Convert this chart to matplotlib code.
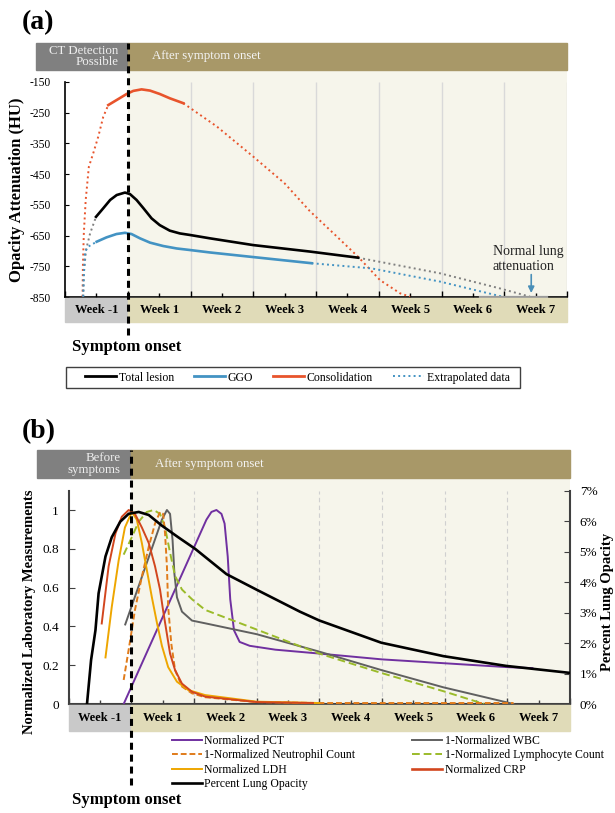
import matplotlib
matplotlib.use('Agg')
import matplotlib.pyplot as plt
from matplotlib.patches import Rectangle
from matplotlib.lines import Line2D
from matplotlib.ticker import MultipleLocator, FuncFormatter

plt.rcParams['font.family'] = ['Liberation Serif', 'DejaVu Serif']
plt.rcParams['axes.unicode_minus'] = False

# ============= data: panel (a), opacity attenuation (HU) vs weeks =============
week_labels = ['Week -1', 'Week 1', 'Week 2', 'Week 3', 'Week 4', 'Week 5', 'Week 6', 'Week 7']

tot_wk = [-0.506, -0.39, -0.28, -0.176, -0.044, 0.036, 0.14, 0.25, 0.38, 0.51, 0.67, 0.83, 0.99, 1.31, 2.0, 2.9, 3.67]
tot_hu = [-589, -561, -534, -518, -510, -515, -534, -561, -594, -616, -634, -643, -648, -659, -681, -702, -722]
tot_pre_wk = [-0.71, -0.70, -0.665, -0.60, -0.506]
tot_pre_hu = [-849, -773, -697, -643, -589]
tot_post_wk = [3.67, 4.98, 5.93, 6.41]
tot_post_hu = [-722, -773, -822, -849]

ggo_wk = [-0.495, -0.34, -0.18, -0.044, 0.06, 0.195, 0.355, 0.565, 0.78, 0.99, 1.31, 2.0, 2.93]
ggo_hu = [-670, -656, -645, -641, -645, -659, -673, -684, -692, -697, -705, -720, -740]
ggo_pre_wk = [-0.71, -0.70, -0.68, -0.63, -0.495]
ggo_pre_hu = [-849, -778, -703, -686, -670]
ggo_post_wk = [2.93, 3.89, 4.98, 5.93, 6.0]
ggo_post_hu = [-740, -757, -800, -847, -850]

con_wk = [-0.31, -0.017, 0.088, 0.22, 0.355, 0.51, 0.67, 0.885]
con_hu = [-225, -189, -179, -174, -178, -189, -203, -219]
con_pre_wk = [-0.72, -0.715, -0.70, -0.67, -0.62, -0.55, -0.47, -0.39, -0.31]
con_pre_hu = [-849, -751, -643, -534, -426, -382, -328, -263, -225]
con_post_wk = [0.885, 1.42, 2.0, 2.5, 2.9, 3.28, 3.67, 4.02, 4.34, 4.5]
con_post_hu = [-219, -295, -393, -480, -570, -643, -719, -795, -838, -849]

normal_wk = [5.61, 6.68]
normal_hu = [-850, -850]

# ============= data: panel (b), normalized lab values vs weeks =============
pct_wk = [-0.12, 1.2, 1.28, 1.36, 1.44, 1.49, 1.54, 1.58, 1.64, 1.73, 1.89, 2.3, 3.0, 4.0, 5.0, 6.0, 6.4]
pct_val = [0.0, 0.95, 0.99, 1.0, 0.98, 0.93, 0.76, 0.54, 0.38, 0.32, 0.30, 0.28, 0.26, 0.23, 0.21, 0.19, 0.185]

wbc_wk = [-0.095, 0.49, 0.57, 0.62, 0.66, 0.69, 0.73, 0.81, 0.97, 1.18, 2.0, 3.0, 3.99, 4.98, 6.1]
wbc_val = [0.41, 0.95, 1.0, 0.98, 0.845, 0.67, 0.55, 0.476, 0.43, 0.416, 0.36, 0.27, 0.175, 0.086, 0.0]

lym_wk = [-0.12, 0.01, 0.12, 0.25, 0.36, 0.46, 0.54, 0.62, 0.70, 0.81, 0.97, 1.18, 1.79, 3.0, 3.99, 4.98, 5.63]
lym_val = [0.77, 0.86, 0.94, 0.99, 1.0, 0.98, 0.91, 0.78, 0.66, 0.59, 0.54, 0.485, 0.41, 0.26, 0.16, 0.066, 0.0]

neu_wk = [-0.12, -0.04, 0.06, 0.17, 0.28, 0.38, 0.46, 0.51, 0.54, 0.57, 0.59, 0.64, 0.70, 0.81, 0.97, 1.18, 2.0, 3.0, 4.0, 5.0, 6.1]
neu_val = [0.124, 0.28, 0.485, 0.656, 0.81, 0.93, 0.99, 0.98, 0.88, 0.71, 0.50, 0.31, 0.175, 0.09, 0.055, 0.035, 0.01, 0.005, 0.005, 0.005, 0.005]

crp_wk = [-0.47, -0.36, -0.25, -0.15, -0.04, 0.06, 0.17, 0.28, 0.38, 0.46, 0.51, 0.57, 0.62, 0.70, 0.81, 0.97, 1.18, 2.0, 2.9]
crp_val = [0.415, 0.71, 0.88, 0.965, 1.0, 0.98, 0.91, 0.83, 0.71, 0.59, 0.48, 0.36, 0.26, 0.175, 0.105, 0.063, 0.038, 0.01, 0.005]

ldh_wk = [-0.41, -0.31, -0.20, -0.10, 0.01, 0.09, 0.17, 0.25, 0.33, 0.41, 0.49, 0.59, 0.73, 0.91, 1.18, 2.0, 3.0]
ldh_val = [0.24, 0.50, 0.74, 0.91, 0.99, 0.95, 0.83, 0.69, 0.55, 0.42, 0.30, 0.19, 0.115, 0.072, 0.046, 0.012, 0.005]

opa_wk = [-0.705, -0.64, -0.57, -0.52, -0.41, -0.31, -0.175, -0.04, 0.12, 0.28, 0.49, 0.75, 1.02, 1.52, 2.0, 2.69, 3.0, 3.99, 4.98, 5.98, 7.0]
opa_pct = [0.0, 1.44, 2.42, 3.63, 4.84, 5.47, 5.98, 6.24, 6.3, 6.2, 5.85, 5.47, 5.09, 4.26, 3.75, 3.03, 2.74, 2.01, 1.57, 1.25, 1.02]

# ============= colours =============
CREAM = '#f6f5eb'
BROWN = '#a89868'
HGRAY = '#808080'
BAND_GRAY = '#c9c9c9'
BAND_TAN = '#e0dbb8'
C_TOT = 'black'
C_GGO = '#4393c3'
C_CON = '#e8542c'
C_PCT = '#7030a0'
C_WBC = '#606060'
C_LYM = '#9bbb2a'
C_NEU = '#e07b1a'
C_CRP = '#d2461e'
C_LDH = '#eea600'

W, H = 615, 813


def fx(px):
    return px / W


def fy(py):
    return 1 - py / H


def timeline(ax, head_h, band_h, onset_bottom, head_left, left_text, left_x):
    # header boxes, week band and the symptom onset dashed line
    tr = ax.get_xaxis_transform()
    ax.add_patch(Rectangle((head_left, 1), -head_left, head_h, transform=tr,
                           color=HGRAY, clip_on=False, zorder=5))
    ax.add_patch(Rectangle((0, 1), 7, head_h, transform=tr,
                           color=BROWN, clip_on=False, zorder=5))
    ax.text(left_x, 1 + head_h / 2, left_text, transform=tr, ha='right', va='center',
            fontsize=9.3, color='#eeeeee', linespacing=0.95, zorder=6)
    ax.text(0.38, 1 + head_h / 2, 'After symptom onset', transform=tr, ha='left',
            va='center', fontsize=9.3, color='#f4f4f4', zorder=6)
    ax.add_patch(Rectangle((-1, -band_h - 0.004), 1, band_h, transform=tr,
                           color=BAND_GRAY, clip_on=False, zorder=5))
    ax.add_patch(Rectangle((0, -band_h - 0.004), 7, band_h, transform=tr,
                           color=BAND_TAN, clip_on=False, zorder=5))
    for i, lab in enumerate(week_labels):
        ax.text(i - 0.5, -band_h / 2 - 0.004, lab, transform=tr, ha='center', va='center',
                fontsize=9, fontweight='bold', zorder=6)
    ax.plot([0, 0], [onset_bottom, 1 + head_h], transform=tr, clip_on=False,
            color='black', lw=2.2, ls=(0, (2.3, 1.6)), zorder=10)


fig = plt.figure(figsize=(6.15, 8.13), dpi=100)

# ============= panel (a) =============
ax_a = fig.add_axes([fx(65), fy(297), (567 - 65) / W, (297 - 70) / H])
ax_a.set_xlim(-1, 7)
ax_a.set_ylim(-850, -150 + 12 * 700 / 215)
ax_a.axvspan(0, 7, color=CREAM, zorder=0, lw=0)
ax_a.vlines(range(1, 8), -850, -150, color='#d9d9d9', lw=1, zorder=1)

ax_a.plot(con_pre_wk, con_pre_hu, color=C_CON, ls=':', lw=1.4, zorder=3)
ax_a.plot(con_post_wk, con_post_hu, color=C_CON, ls=':', lw=1.4, zorder=3)
ax_a.plot(tot_pre_wk, tot_pre_hu, color='#808080', ls=':', lw=1.4, zorder=3)
ax_a.plot(tot_post_wk, tot_post_hu, color='#808080', ls=':', lw=1.4, zorder=3)
ax_a.plot(ggo_pre_wk, ggo_pre_hu, color=C_GGO, ls=':', lw=1.4, zorder=3)
ax_a.plot(ggo_post_wk, ggo_post_hu, color=C_GGO, ls=':', lw=1.4, zorder=3)
ax_a.plot(con_wk, con_hu, color=C_CON, lw=1.9, zorder=4)
ax_a.plot(tot_wk, tot_hu, color=C_TOT, lw=1.9, zorder=4)
ax_a.plot(ggo_wk, ggo_hu, color=C_GGO, lw=1.9, zorder=4)
ax_a.plot(normal_wk, normal_hu, color='#9a9a9a', lw=1.6, zorder=3, clip_on=False)

ax_a.annotate('', xy=(6.43, -846), xytext=(6.43, -768),
              arrowprops=dict(arrowstyle='-|>', color='#4a8fb8', lw=1.2, mutation_scale=9),
              zorder=5)
ax_a.text(5.82, -726, 'Normal lung\nattenuation', ha='left', va='center', fontsize=10,
          color='#222222', linespacing=1.25, zorder=5)

for s in ['top', 'right']:
    ax_a.spines[s].set_visible(False)
ax_a.spines['left'].set_bounds(-850, -150)
ax_a.spines['left'].set_linewidth(1.2)
ax_a.spines['bottom'].set_linewidth(1.2)
ax_a.set_yticks(range(-850, -149, 100))
ax_a.set_xticks(range(-1, 8))
ax_a.xaxis.set_minor_locator(MultipleLocator(0.5))
ax_a.tick_params(axis='x', which='both', direction='in', labelbottom=False, width=1)
ax_a.tick_params(axis='x', which='major', length=4)
ax_a.tick_params(axis='x', which='minor', length=3)
ax_a.tick_params(axis='y', direction='in', length=3, labelsize=8.3, pad=10)

timeline(ax_a, 27 / 227, 24 / 227, (297 - 335) / 227, -1.46, 'CT Detection\nPossible', -0.15)

fig.text(fx(17), fy(190), 'Opacity Attenuation (HU)', rotation=90, ha='center', va='center',
         fontsize=12, fontweight='bold')
fig.text(fx(22), fy(23), '(a)', ha='left', va='center', fontsize=20, fontweight='bold')
fig.text(fx(72), fy(347), 'Symptom onset', ha='left', va='center', fontsize=12, fontweight='bold')

fig.add_artist(Rectangle((fx(66), fy(388)), (520 - 66) / W, (388 - 367) / H,
                         transform=fig.transFigure, fill=False, edgecolor='#404040', lw=1))
leg_a = [Line2D([], [], color=C_TOT, lw=2),
         Line2D([], [], color=C_GGO, lw=2),
         Line2D([], [], color=C_CON, lw=2),
         Line2D([], [], color=C_GGO, lw=1.4, ls=':')]
fig.legend(leg_a, ['Total lesion', 'GGO', 'Consolidation', 'Extrapolated data'],
           ncol=4, loc='center left', bbox_to_anchor=(fx(85), fy(377.5)), frameon=False,
           borderaxespad=0, borderpad=0, handlelength=2.6, handletextpad=0.25,
           columnspacing=1.7, fontsize=8.5)

# ============= panel (b) =============
ax_b = fig.add_axes([fx(68.5), fy(704), (570 - 68.5) / W, (704 - 478) / H])
top_b = (704 - 478) / 194
ax_b.set_xlim(-1, 7)
ax_b.set_ylim(0, top_b)
ax_b.axvspan(0, 7, color=CREAM, zorder=0, lw=0)
ax_b.vlines(range(1, 7), 0, 1.1, color='#d0d0d0', lw=0.8, ls=(0, (4, 3)), zorder=1)

ax_b.plot(pct_wk, pct_val, color=C_PCT, lw=1.4, zorder=3)
ax_b.plot(wbc_wk, wbc_val, color=C_WBC, lw=1.4, zorder=3)
ax_b.plot(lym_wk, lym_val, color=C_LYM, lw=1.4, ls=(0, (4, 2)), zorder=3)
ax_b.plot(neu_wk, neu_val, color=C_NEU, lw=1.4, ls=(0, (3, 1.5)), zorder=3)
ax_b.plot(ldh_wk, ldh_val, color=C_LDH, lw=1.4, zorder=3)
ax_b.plot(crp_wk, crp_val, color=C_CRP, lw=1.4, zorder=3)

ax_r = ax_b.twinx()
ax_r.set_ylim(0, 7 * top_b / 1.1)
ax_r.plot(opa_wk, opa_pct, color='black', lw=1.9, zorder=4)

for s in ['top', 'right']:
    ax_b.spines[s].set_visible(False)
for s in ['top', 'left', 'bottom']:
    ax_r.spines[s].set_visible(False)
ax_b.spines['left'].set_bounds(0, 1.1)
ax_r.spines['right'].set_bounds(0, 7)
for sp in [ax_b.spines['left'], ax_b.spines['bottom'], ax_r.spines['right']]:
    sp.set_color('#404040')
    sp.set_linewidth(1.5)

ax_b.set_yticks([0, 0.2, 0.4, 0.6, 0.8, 1])
ax_b.yaxis.set_major_formatter(FuncFormatter(lambda v, p: '{:g}'.format(round(v, 1))))
ax_b.set_xticks(range(-1, 8))
ax_b.xaxis.set_minor_locator(MultipleLocator(0.5))
ax_b.tick_params(axis='x', which='both', direction='in', labelbottom=False, width=1,
                 color='#404040')
ax_b.tick_params(axis='x', which='major', length=4)
ax_b.tick_params(axis='x', which='minor', length=3)
ax_b.tick_params(axis='y', direction='in', length=4, labelsize=9.5, pad=7, color='#404040')
ax_r.set_yticks(range(0, 8))
ax_r.yaxis.set_major_formatter(FuncFormatter(lambda v, p: '{:.0f}%'.format(v)))
ax_r.tick_params(axis='y', direction='in', length=4, labelsize=9.5, pad=7, color='#404040')

timeline(ax_r, 28 / 226, 26 / 226, (704 - 785) / 226, -1.5, 'Before\nsymptoms', -0.17)

fig.text(fx(30), fy(612), 'Normalized Laboratory Measurements', rotation=90, ha='center',
         va='center', fontsize=10.5, fontweight='bold')
fig.text(fx(608), fy(602), 'Percent Lung Opacity', rotation=90, ha='center', va='center',
         fontsize=10.5, fontweight='bold')
fig.text(fx(22), fy(432), '(b)', ha='left', va='center', fontsize=20, fontweight='bold')
fig.text(fx(72), fy(800), 'Symptom onset', ha='left', va='center', fontsize=12, fontweight='bold')

leg_b = [Line2D([], [], color=C_PCT, lw=1.4),
         Line2D([], [], color=C_NEU, lw=1.4, ls=(0, (3, 1.5))),
         Line2D([], [], color=C_LDH, lw=1.4),
         Line2D([], [], color='black', lw=1.9),
         Line2D([], [], color=C_WBC, lw=1.4),
         Line2D([], [], color=C_LYM, lw=1.4, ls=(0, (4, 2))),
         Line2D([], [], color=C_CRP, lw=1.9)]
fig.legend(leg_b, ['Normalized PCT', '1-Normalized Neutrophil Count', 'Normalized LDH',
                   'Percent Lung Opacity', '1-Normalized WBC', '1-Normalized Lymphocyte Count',
                   'Normalized CRP'],
           ncol=2, loc='upper left', bbox_to_anchor=(fx(172), fy(735)), frameon=False,
           borderaxespad=0, borderpad=0, handlelength=2.55, handletextpad=0.2,
           columnspacing=4.8, labelspacing=0.2, fontsize=8.5)

fig.savefig('out.png', dpi=100)
